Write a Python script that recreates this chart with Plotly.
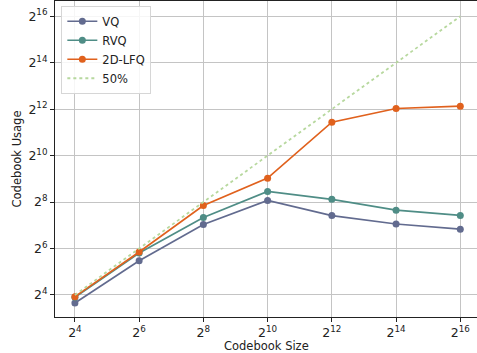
import math
import plotly.graph_objects as go

# Data
codebook_size = [16, 64, 256, 1024, 4096, 16384, 65536]
vq = [12.6, 44.3, 131, 269, 171, 133, 114]
rvq = [14.9, 56, 162, 352, 278, 201, 172]
lfq_2d = [15.2, 57.7, 231, 523, 2778, 4182, 4482]
fifty_x = [16, 65536]
fifty_y = [16, 65536]
tick_exps = [4, 6, 8, 10, 12, 14, 16]

tickvals = [2 ** e for e in tick_exps]
ticktext = [f"2<sup>{e}</sup>" for e in tick_exps]

FONT = "DejaVu Sans"

fig = go.Figure()
series = [
    ("VQ", vq, "#626b8f"),
    ("RVQ", rvq, "#4f8d86"),
    ("2D-LFQ", lfq_2d, "#e0611d"),
]
for name, ys, col in series:
    fig.add_trace(go.Scatter(
        x=codebook_size, y=ys, name=name, mode="lines+markers",
        line=dict(color=col, width=1.7),
        marker=dict(color=col, size=7),
    ))
fig.add_trace(go.Scatter(
    x=fifty_x, y=fifty_y, name="50%", mode="lines",
    line=dict(color="#b7d89e", width=1.8, dash="dot"),
))

l2 = math.log10(2)
fig.update_layout(
    width=477, height=353,
    margin=dict(l=55, r=0, t=1, b=36),
    paper_bgcolor="white", plot_bgcolor="white",
    font=dict(family=FONT, size=12, color="#222222"),
    showlegend=True,
    legend=dict(
        x=0.015, y=0.985, xanchor="left", yanchor="top",
        bgcolor="rgba(255,255,255,0.85)", bordercolor="#d6d6d6", borderwidth=1,
        font=dict(family=FONT, size=11.5, color="#222222"),
        tracegroupgap=0, itemwidth=30,
    ),
    xaxis=dict(
        type="log", range=[3.38 * l2, 16.52 * l2],
        tickvals=tickvals, ticktext=ticktext,
        tickfont=dict(size=12.5),
        showgrid=True, gridcolor="#c4c4c4", gridwidth=1,
        showline=True, linecolor="#222222", linewidth=1, mirror=True,
        ticks="outside", ticklen=4, tickcolor="#222222",
        zeroline=False,
    ),
    yaxis=dict(
        type="log", range=[3.05 * l2, 16.66 * l2],
        tickvals=tickvals, ticktext=ticktext,
        tickfont=dict(size=12.5),
        showgrid=True, gridcolor="#c4c4c4", gridwidth=1,
        showline=True, linecolor="#222222", linewidth=1,
        ticks="outside", ticklen=4, tickcolor="#222222",
        zeroline=False,
        title=dict(text="Codebook Usage", font=dict(family=FONT, size=11.5), standoff=4),
    ),
    annotations=[dict(
        text="Codebook Size", xref="paper", yref="paper",
        x=0.5, y=-0.093, xanchor="center", yanchor="middle",
        showarrow=False, font=dict(family=FONT, size=11.5, color="#222222"),
    )],
)

fig.write_html("out.html")
